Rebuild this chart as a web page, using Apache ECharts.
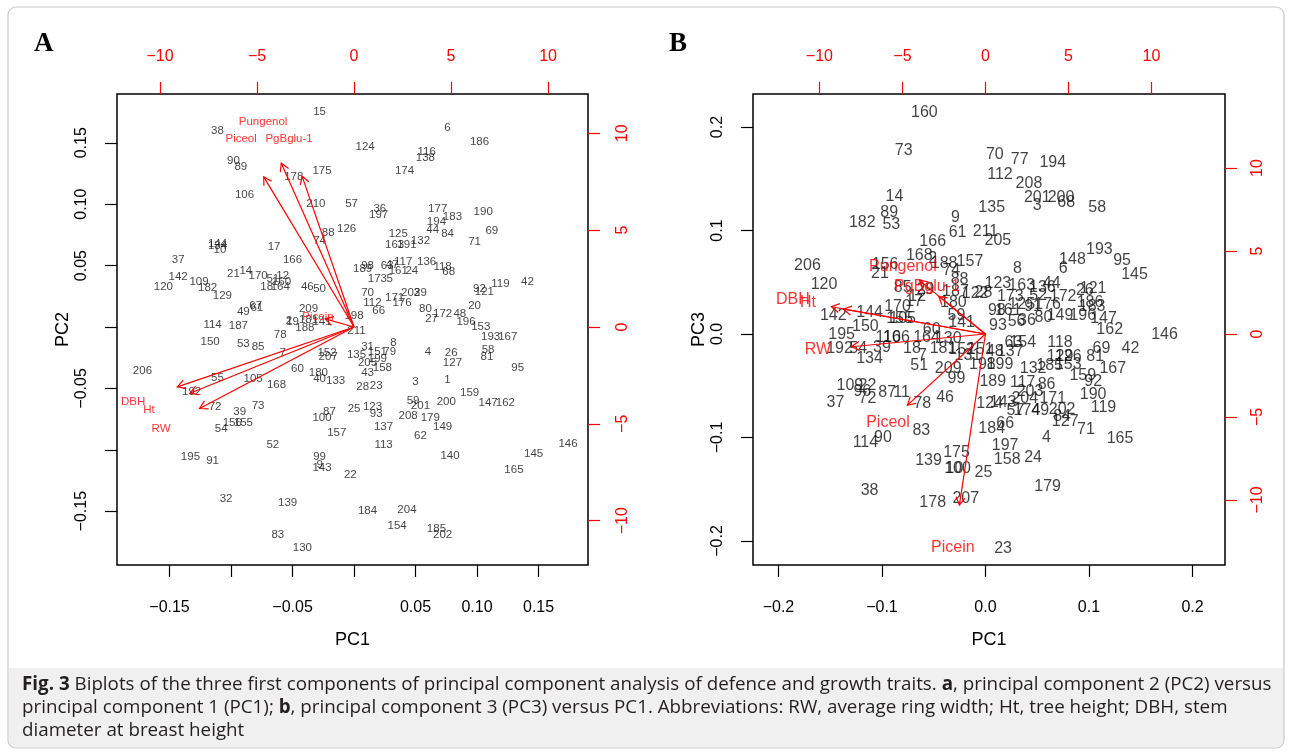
<!DOCTYPE html>
<html>
<head>
<meta charset="utf-8">
<script src="https://cdn.jsdelivr.net/npm/echarts@6/dist/echarts.min.js"></script>
<style>
html,body{margin:0;padding:0;background:#fff;}
#chart{width:1292px;height:753px;}
</style>
</head>
<body>
<div id="chart"></div>
<script>
// ---------- Panel A: PC1 vs PC2 (observation scores) ----------
const aLabels = [15,38,90,89,178,175,106,210,57,88,74,126,144,134,10,17,37,166,14,21,170,12,142,109,120,182,51,160,18,164,129,46,50,49,67,61,209,114,187,78,19,2,188,181,141,198,211,70,112,66,173,5,189,98,63,47,117,161,24,136,118,68,171,176,203,29,80,27,172,48,196,153,20,119,92,121,42,193,167,58,81,95,125,163,191,132,194,44,84,177,183,190,69,71,36,197,124,116,138,174,6,186,150,53,85,7,152,207,206,55,105,168,60,180,40,133,192,72,39,73,156,155,54,87,100,157,52,195,91,99,9,143,22,32,139,83,130,8,31,135,151,79,199,43,205,158,28,23,3,1,4,26,127,159,200,147,162,59,201,208,179,149,25,123,93,137,62,113,140,146,145,165,184,204,154,185,202];
const aPC1 = [-0.028,-0.111,-0.098,-0.092,-0.049,-0.026,-0.089,-0.031,-0.002,-0.021,-0.028,-0.006,-0.111,-0.111,-0.109,-0.065,-0.143,-0.050,-0.088,-0.098,-0.078,-0.058,-0.143,-0.126,-0.155,-0.119,-0.066,-0.059,-0.071,-0.060,-0.107,-0.038,-0.028,-0.090,-0.080,-0.079,-0.037,-0.115,-0.094,-0.060,-0.050,-0.053,-0.040,-0.037,-0.026,0.000,0.002,0.011,0.015,0.020,0.019,0.029,0.007,0.011,0.027,0.031,0.040,0.036,0.047,0.059,0.072,0.077,0.033,0.039,0.046,0.054,0.058,0.063,0.072,0.086,0.091,0.103,0.098,0.119,0.102,0.106,0.141,0.111,0.125,0.109,0.108,0.133,0.036,0.033,0.043,0.054,0.067,0.064,0.076,0.068,0.080,0.105,0.112,0.098,0.021,0.020,0.009,0.059,0.058,0.041,0.076,0.102,-0.117,-0.090,-0.078,-0.058,-0.022,-0.021,-0.172,-0.111,-0.082,-0.063,-0.046,-0.029,-0.028,-0.015,-0.132,-0.113,-0.093,-0.078,-0.099,-0.090,-0.108,-0.020,-0.026,-0.014,-0.066,-0.133,-0.115,-0.028,-0.028,-0.026,-0.003,-0.104,-0.054,-0.062,-0.042,0.032,0.011,0.002,0.019,0.029,0.019,0.011,0.011,0.023,0.007,0.018,0.050,0.076,0.060,0.079,0.080,0.094,0.075,0.109,0.123,0.048,0.054,0.044,0.062,0.072,0.000,0.015,0.018,0.024,0.054,0.024,0.078,0.174,0.146,0.130,0.011,0.043,0.035,0.067,0.072];
const aPC2 = [0.175,0.160,0.135,0.130,0.122,0.127,0.108,0.100,0.100,0.077,0.070,0.080,0.068,0.066,0.063,0.065,0.055,0.055,0.046,0.043,0.042,0.042,0.041,0.037,0.033,0.032,0.039,0.037,0.033,0.033,0.025,0.033,0.031,0.012,0.017,0.016,0.015,0.002,0.001,-0.006,0.004,0.005,-0.001,0.006,0.004,0.009,-0.003,0.028,0.020,0.013,0.039,0.039,0.047,0.050,0.050,0.051,0.053,0.046,0.046,0.053,0.049,0.045,0.024,0.020,0.028,0.028,0.015,0.007,0.011,0.011,0.004,0.000,0.017,0.035,0.031,0.029,0.037,-0.008,-0.008,-0.019,-0.024,-0.033,0.076,0.067,0.067,0.070,0.086,0.079,0.076,0.096,0.090,0.094,0.078,0.069,0.096,0.091,0.147,0.143,0.138,0.127,0.162,0.151,-0.012,-0.014,-0.016,-0.021,-0.021,-0.024,-0.036,-0.041,-0.042,-0.047,-0.034,-0.037,-0.042,-0.044,-0.053,-0.065,-0.069,-0.064,-0.078,-0.078,-0.083,-0.069,-0.074,-0.086,-0.096,-0.106,-0.109,-0.106,-0.112,-0.115,-0.120,-0.140,-0.143,-0.169,-0.180,-0.013,-0.016,-0.023,-0.020,-0.020,-0.026,-0.037,-0.029,-0.033,-0.049,-0.048,-0.045,-0.043,-0.020,-0.021,-0.029,-0.054,-0.061,-0.062,-0.062,-0.060,-0.064,-0.072,-0.074,-0.081,-0.067,-0.065,-0.071,-0.081,-0.089,-0.096,-0.105,-0.095,-0.103,-0.116,-0.150,-0.149,-0.162,-0.164,-0.169];

// ---------- Panel B: PC1 vs PC3 (observation scores) ----------
const bLabels = [160,73,14,89,182,53,9,61,211,205,166,168,2,157,206,156,21,120,188,74,88,85,29,12,17,170,144,142,155,105,150,195,192,54,39,134,116,106,164,60,130,18,7,51,209,181,152,131,99,109,22,37,72,96,87,11,78,46,83,114,90,139,175,100,10,25,38,178,207,23,70,77,194,112,208,201,200,3,68,58,135,193,95,148,6,145,8,123,163,136,44,52,172,121,26,28,173,186,183,98,161,125,91,176,80,149,196,147,93,56,36,162,63,154,118,69,42,81,146,167,129,126,153,159,92,132,185,189,117,203,86,190,119,124,143,204,171,57,174,49,202,84,127,71,184,66,4,197,158,24,165,179,180,59,141,187,122,48,137,199,198,151];
const bPC1 = [-0.059,-0.079,-0.088,-0.093,-0.119,-0.091,-0.029,-0.027,0.000,0.012,-0.051,-0.064,-0.051,-0.015,-0.172,-0.097,-0.102,-0.156,-0.040,-0.033,-0.025,-0.080,-0.058,-0.066,-0.069,-0.085,-0.112,-0.147,-0.083,-0.080,-0.116,-0.139,-0.141,-0.123,-0.100,-0.112,-0.094,-0.086,-0.057,-0.052,-0.036,-0.071,-0.061,-0.064,-0.036,-0.041,-0.023,-0.017,-0.028,-0.131,-0.114,-0.145,-0.114,-0.119,-0.095,-0.081,-0.061,-0.039,-0.062,-0.116,-0.099,-0.055,-0.028,-0.027,-0.030,-0.002,-0.112,-0.051,-0.019,0.017,0.009,0.033,0.065,0.014,0.042,0.050,0.073,0.050,0.078,0.108,0.006,0.110,0.132,0.084,0.075,0.144,0.031,0.012,0.035,0.055,0.064,0.051,0.075,0.104,0.096,-0.002,0.024,0.101,0.103,0.011,0.022,0.035,0.046,0.060,0.056,0.072,0.094,0.114,0.012,0.030,0.040,0.120,0.027,0.036,0.072,0.112,0.140,0.106,0.173,0.123,0.072,0.080,0.080,0.094,0.104,0.046,0.062,0.007,0.036,0.043,0.059,0.104,0.114,0.004,0.017,0.038,0.065,0.029,0.040,0.053,0.074,0.074,0.077,0.097,0.006,0.019,0.059,0.019,0.021,0.046,0.130,0.060,-0.031,-0.028,-0.023,-0.029,-0.010,0.009,0.024,0.014,-0.003,-0.005];
const bPC3 = [0.214,0.177,0.133,0.117,0.108,0.106,0.112,0.098,0.099,0.090,0.089,0.076,0.073,0.070,0.066,0.067,0.058,0.048,0.068,0.061,0.053,0.045,0.043,0.036,0.031,0.026,0.021,0.018,0.015,0.015,0.007,-0.001,-0.014,-0.014,-0.013,-0.024,-0.003,-0.003,-0.003,0.004,-0.004,-0.014,-0.021,-0.031,-0.033,-0.014,-0.015,-0.021,-0.043,-0.050,-0.050,-0.066,-0.062,-0.056,-0.057,-0.057,-0.067,-0.061,-0.093,-0.105,-0.100,-0.122,-0.115,-0.130,-0.130,-0.134,-0.151,-0.163,-0.159,-0.207,0.173,0.169,0.166,0.154,0.145,0.132,0.132,0.124,0.127,0.122,0.122,0.082,0.071,0.072,0.063,0.057,0.063,0.049,0.047,0.045,0.049,0.037,0.036,0.044,0.042,0.040,0.036,0.030,0.026,0.023,0.023,0.028,0.026,0.028,0.016,0.018,0.018,0.015,0.008,0.012,0.013,0.004,-0.008,-0.008,-0.008,-0.014,-0.014,-0.022,-0.001,-0.033,-0.022,-0.022,-0.030,-0.040,-0.046,-0.033,-0.031,-0.046,-0.047,-0.056,-0.049,-0.059,-0.071,-0.067,-0.066,-0.062,-0.062,-0.074,-0.074,-0.074,-0.073,-0.080,-0.085,-0.092,-0.091,-0.087,-0.100,-0.108,-0.121,-0.119,-0.101,-0.147,0.030,0.018,0.011,0.041,0.039,-0.017,-0.017,-0.030,-0.030,-0.015];

// ---------- Variable loadings (label positions, top/right axis units) ----------
const varNames = ['Pungenol','Piceol','PgBglu-1','Picein','DBH','Ht','RW'];
const aLoadX = [-4.69,-5.82,-3.35,-1.86,-11.39,-10.57,-9.95];
const aLoadY = [10.57,9.69,9.74,0.52,-3.87,-4.28,-5.26];
const bLoadX = [-4.97,-5.87,-3.52,-1.96,-11.60,-10.69,-10.09];
const bLoadY = [4.04,-5.36,2.83,-12.89,2.05,1.87,-0.96];
const arrowScale = 0.8;

// ---------- Axis ticks and labels ----------
const aScoreTicks = [-0.15,-0.10,-0.05,0,0.05,0.10,0.15];
const aScoreLabels = [-0.15,-0.05,0.05,0.10,0.15];
const bScoreTicks = [-0.2,-0.1,0,0.1,0.2];
const bScoreLabels = [-0.2,-0.1,0,0.1,0.2];
const loadTicks = [-10,-5,0,5,10];

const FONT = "'Liberation Sans', Arial, Helvetica, sans-serif";
const CAPFONT = "'Open Sans', 'Liberation Sans', Arial, sans-serif";
const RED = '#ff0000';
function fmt(v, d){ const s = Math.abs(v).toFixed(d); return (v < -1e-9 ? '\u2212' : '') + s; }

const chart = echarts.init(document.getElementById('chart'), null, {renderer:'canvas'});

function axis(kind, gridIndex, position, min, max, ticks, labels, color, dec, margin, name, nameGap){
  const a = {
    type:'value', gridIndex, position, min, max,
    axisLine:{show:false, onZero:false},
    splitLine:{show:false},
    axisTick:{show:true, inside:false, length:12, customValues:ticks, lineStyle:{color:color==='#000'?'#000':RED, width:1.2}},
    axisLabel:{show:true, customValues:labels, formatter:v=>fmt(v,dec), color, fontSize:16, fontFamily:FONT, margin},
  };
  if (kind === 'y') a.axisLabel.rotate = 90;
  if (name) {
    a.name = name; a.nameLocation = 'middle'; a.nameGap = nameGap;
    a.nameTextStyle = {color:'#000', fontSize:18, fontFamily:FONT};
    if (kind === 'y') a.nameRotate = 90;
  }
  return a;
}

const gridA = {left:117, top:94, width:471, height:471, show:true, borderColor:'#000', borderWidth:1.5, backgroundColor:'transparent', containLabel:false, outerBoundsMode:'none'};
const gridB = {left:753, top:94, width:472, height:471, show:true, borderColor:'#000', borderWidth:1.5, backgroundColor:'transparent', containLabel:false, outerBoundsMode:'none'};

const xAxes = [
  axis('x',0,'bottom',-0.1927,0.1902,aScoreTicks,aScoreLabels,'#000',2,35,'PC1',66),
  axis('x',0,'top',-12.22,12.06,loadTicks,loadTicks,RED,0,29),
  axis('x',1,'bottom',-0.2246,0.2314,bScoreTicks,bScoreLabels,'#000',1,35,'PC1',66),
  axis('x',1,'top',-14.00,14.43,loadTicks,loadTicks,RED,0,29)
];
const yAxes = [
  axis('y',0,'left',-0.1938,0.1897,aScoreTicks,aScoreLabels,'#000',2,27,'PC2',45),
  axis('y',0,'right',-12.29,12.03,loadTicks,loadTicks,RED,0,27),
  axis('y',1,'left',-0.2232,0.2319,bScoreTicks,bScoreLabels,'#000',1,27,'PC3',45),
  axis('y',1,'right',-13.92,14.46,loadTicks,loadTicks,RED,0,25)
];

function textSeries(xi, yi, labels, xs, ys, size, color){
  return {
    type:'scatter', xAxisIndex:xi, yAxisIndex:yi, silent:true,
    symbol:'circle', symbolSize:1, itemStyle:{color:'rgba(0,0,0,0)'},
    data: labels.map((n,i)=>({name:String(n), value:[xs[i], ys[i]]})),
    label:{show:true, position:'inside', formatter:p=>p.name, color, fontSize:size, fontFamily:FONT},
    labelLayout:{hideOverlap:false},
    emphasis:{disabled:true}, z:3
  };
}

function arrowSeries(xi, yi, xs, ys){
  return {
    type:'custom', xAxisIndex:xi, yAxisIndex:yi, silent:true, z:4,
    data: xs.map((x,i)=>[x, ys[i]]),
    renderItem:(params, api)=>{
      const lx = api.value(0)*arrowScale, ly = api.value(1)*arrowScale;
      const p0 = api.coord([0,0]), p1 = api.coord([lx,ly]);
      const ang = Math.atan2(p1[1]-p0[1], p1[0]-p0[0]);
      const L = 9, h = Math.PI/6;
      const h1 = [p1[0]-L*Math.cos(ang-h), p1[1]-L*Math.sin(ang-h)];
      const h2 = [p1[0]-L*Math.cos(ang+h), p1[1]-L*Math.sin(ang+h)];
      return {type:'group', children:[
        {type:'line', shape:{x1:p0[0],y1:p0[1],x2:p1[0],y2:p1[1]}, style:{stroke:RED, lineWidth:1.2}},
        {type:'polyline', shape:{points:[h1,p1,h2]}, style:{stroke:RED, lineWidth:1.2, fill:null}}
      ]};
    }
  };
}

const capStyle = {font:"18.8px " + CAPFONT, fill:'#231f20', rich:{b:{fontWeight:'bold', fontSize:18.8, fontFamily:CAPFONT, fill:'#231f20'}}};

chart.setOption({
  animation:false,
  backgroundColor:'#fff',
  grid:[gridA, gridB],
  xAxis:xAxes,
  yAxis:yAxes,
  series:[
    textSeries(0,0,aLabels,aPC1,aPC2,11.5,'#111'),
    arrowSeries(1,1,aLoadX,aLoadY),
    textSeries(1,1,varNames,aLoadX,aLoadY,11.5,RED),
    textSeries(2,2,bLabels,bPC1,bPC3,16,'#111'),
    arrowSeries(3,3,bLoadX,bLoadY),
    textSeries(3,3,varNames,bLoadX,bLoadY,16,RED)
  ],
  graphic:[
    {type:'rect', shape:{x:8,y:7,width:1276,height:741,r:8}, style:{fill:null, stroke:'#c8c8c8', lineWidth:1.2}, z:-1},
    {type:'rect', shape:{x:9,y:668,width:1274,height:79,r:[0,0,7,7]}, style:{fill:'#f0f0f0', stroke:null}, z:-1},
    {type:'text', left:34, top:31, style:{text:'A', font:"bold 27px 'Liberation Serif', 'Times New Roman', serif", fill:'#000'}},
    {type:'text', left:669, top:31, style:{text:'B', font:"bold 27px 'Liberation Serif', 'Times New Roman', serif", fill:'#000'}},
    {type:'text', left:22, top:675, style:Object.assign({text:'{b|Fig. 3} Biplots of the three first components of principal component analysis of defence and growth traits. {b|a}, principal component 2 (PC2) versus'}, capStyle)},
    {type:'text', left:22, top:698, style:Object.assign({text:'principal component 1 (PC1); {b|b}, principal component 3 (PC3) versus PC1. Abbreviations: RW, average ring width; Ht, tree height; DBH, stem'}, capStyle)},
    {type:'text', left:22, top:721, style:Object.assign({text:'diameter at breast height'}, capStyle)}
  ]
});
</script>
</body>
</html>
